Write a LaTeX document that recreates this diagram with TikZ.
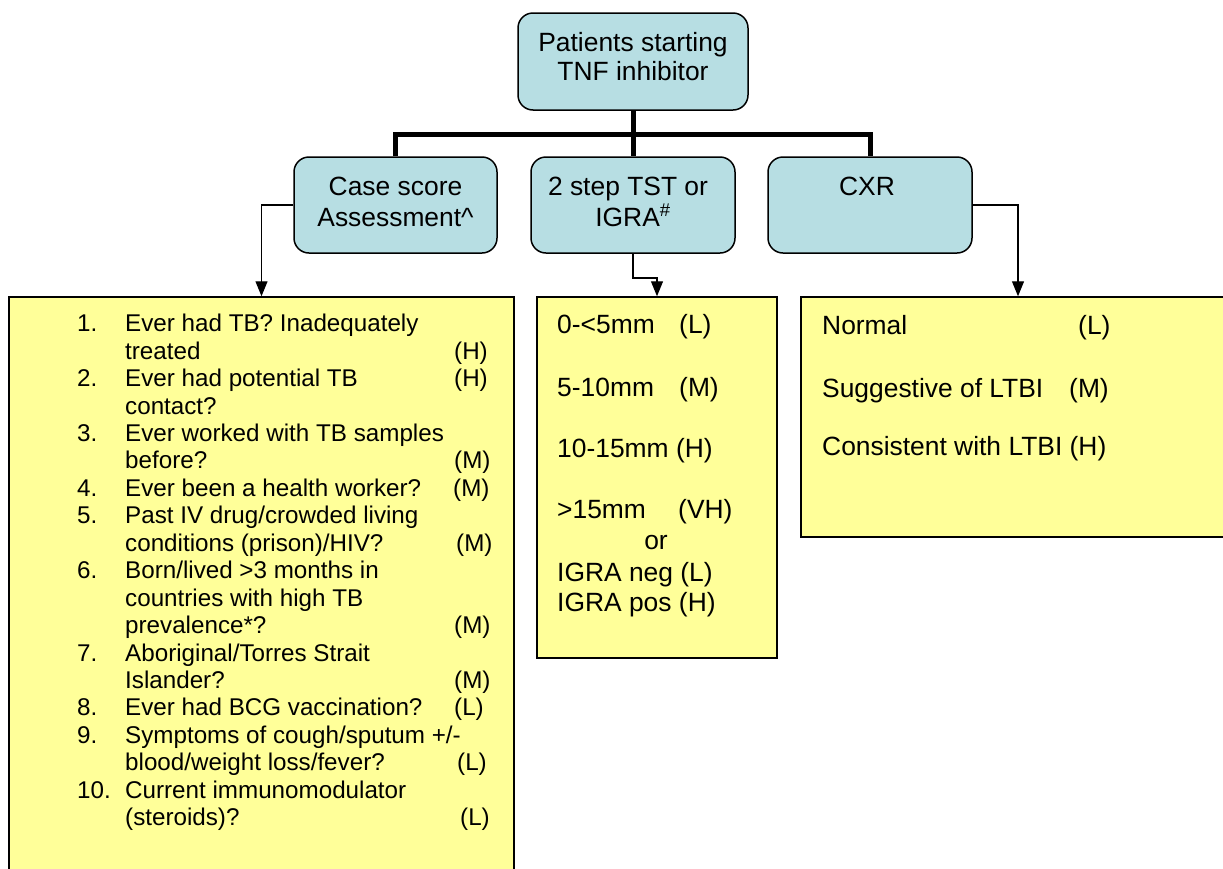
\documentclass[tikz,border=0pt]{standalone}
\usepackage{fontspec}
\setmainfont{Liberation Sans}
\usetikzlibrary{arrows.meta}
\definecolor{boxblue}{RGB}{183,222,227}
\definecolor{boxyellow}{RGB}{255,255,153}
\newcommand{\hfont}{\fontsize{26.4}{30.4}\selectfont}
\newcommand{\lfont}{\fontsize{24.2}{27.4}\selectfont}
\begin{document}
\begin{tikzpicture}[x=1pt,y=-1pt,
  bluebox/.style={draw=black, line width=1.5pt, fill=boxblue, rounded corners=15pt,
    minimum width=#1, minimum height=96pt, inner sep=0pt},
  bluebox/.default=204pt,
  yellowbox/.style={draw=black, line width=1.5pt, fill=boxyellow, inner sep=0pt},
  htxt/.style={font=\hfont, inner sep=0pt, anchor=base},
  mtxt/.style={font=\hfont, inner sep=0pt, anchor=base west},
  ltxt/.style={font=\lfont, inner sep=0pt, anchor=base west},
  barline/.style={line width=5pt},
  arr/.style={line width=1.2pt, -{Triangle[length=15pt,width=12pt]}}]
\useasboundingbox (0,0) rectangle (1223,868);
\clip (0,0) rectangle (1223,868);

% boxes
\node[bluebox=230pt, minimum height=97pt] (top) at (633,61.5) {};
\node[bluebox=203pt] (case) at (395.5,205) {};
\node[bluebox] (tst) at (633,205) {};
\node[bluebox] (cxr) at (870,205) {};
\node[yellowbox, minimum width=505pt, minimum height=603pt] (lbox) at (261.5,598.5) {};
\node[yellowbox, minimum width=240pt, minimum height=361pt] (mbox) at (657,477.5) {};
\node[yellowbox, minimum width=434pt, minimum height=240pt] (rbox) at (1018,417) {};

% connectors
\coordinate (junc) at (633,134);
\coordinate (elbow) at (633,278);
\draw[barline] (top.south) -- (tst.north);
\draw[barline] (case.north) |- (junc) -| (cxr.north);
\draw[arr] (case.west) -| (lbox.north);
\draw[arr] (tst.south) -- (elbow) -| (mbox.north);
\draw[arr] (cxr.east) -| (rbox.north);

% header texts
\node[htxt] (t1) at (633,51.5) {Patients starting};
\node[htxt] (t2) at (633,80) {TNF inhibitor};
\node[htxt] (c1) at (395.5,195) {Case score};
\node[htxt] (c2) at (395.5,226) {Assessment\textasciicircum};
\node[htxt] (s1) at (628,195) {2 step TST or};
\node[htxt] (s2) at (633,226) {IGRA\textsuperscript{\#}};
\node[htxt] (x1) at (867,195) {CXR};

% left list
\node[ltxt] (n1) at (77,331.7) {1.};
\node[ltxt] (l1) at (125,331.7) {Ever had TB? Inadequately};
\node[ltxt] (l2) at (125,359.1) {treated};
\node[ltxt] (r1) at (454,359.1) {(H)};
\node[ltxt] (n2) at (77,386.6) {2.};
\node[ltxt] (l3) at (125,386.6) {Ever had potential TB};
\node[ltxt] (r2) at (454,386.6) {(H)};
\node[ltxt] (l4) at (125,414.0) {contact?};
\node[ltxt] (n3) at (77,441.5) {3.};
\node[ltxt] (l5) at (125,441.5) {Ever worked with TB samples};
\node[ltxt] (l6) at (125,468.9) {before?};
\node[ltxt] (r3) at (454,468.9) {(M)};
\node[ltxt] (n4) at (77,496.3) {4.};
\node[ltxt] (l7) at (125,496.3) {Ever been a health worker?};
\node[ltxt] (r4) at (453,496.3) {(M)};
\node[ltxt] (n5) at (77,523.8) {5.};
\node[ltxt] (l8) at (125,523.8) {Past IV drug/crowded living};
\node[ltxt] (l9) at (125,551.2) {conditions (prison)/HIV?};
\node[ltxt] (r5) at (456,551.2) {(M)};
\node[ltxt] (n6) at (77,578.7) {6.};
\node[ltxt] (l10) at (125,578.7) {Born/lived >3 months in};
\node[ltxt] (l11) at (125,606.1) {countries with high TB};
\node[ltxt] (l12) at (125,633.5) {prevalence*?};
\node[ltxt] (r6) at (454,633.5) {(M)};
\node[ltxt] (n7) at (77,661.0) {7.};
\node[ltxt] (l13) at (125,661.0) {Aboriginal/Torres Strait};
\node[ltxt] (l14) at (125,688.4) {Islander?};
\node[ltxt] (r7) at (454,688.4) {(M)};
\node[ltxt] (n8) at (77,715.9) {8.};
\node[ltxt] (l15) at (125,715.9) {Ever had BCG vaccination?};
\node[ltxt] (r8) at (454,715.9) {(L)};
\node[ltxt] (n9) at (77,743.3) {9.};
\node[ltxt] (l16) at (125,743.3) {Symptoms of cough/sputum +/-};
\node[ltxt] (l17) at (125,770.7) {blood/weight loss/fever?};
\node[ltxt] (r9) at (457,770.7) {(L)};
\node[ltxt] (n10) at (77,798.2) {10.};
\node[ltxt] (l18) at (125,798.2) {Current immunomodulator};
\node[ltxt] (l19) at (125,825.6) {(steroids)?};
\node[ltxt] (r10) at (460,825.6) {(L)};

% middle box
\node[mtxt] (m1) at (557,333) {0-<5mm};
\node[mtxt] (m1r) at (679,333) {(L)};
\node[mtxt] (m2) at (557,396) {5-10mm};
\node[mtxt] (m2r) at (679,396) {(M)};
\node[mtxt] (m3) at (557,457) {10-15mm (H)};
\node[mtxt] (m4) at (557,518.5) {>15mm};
\node[mtxt] (m4r) at (678,518.5) {(VH)};
\node[htxt] (m5) at (656,549.5) {or};
\node[mtxt] (m6) at (557,581) {IGRA neg (L)};
\node[mtxt] (m7) at (557,611) {IGRA pos (H)};

% right box
\node[mtxt] (q1) at (822,334.5) {Normal};
\node[mtxt] (q1r) at (1078,334.5) {(L)};
\node[mtxt] (q2) at (822,397.5) {Suggestive of LTBI};
\node[mtxt] (q2r) at (1069,397.5) {(M)};
\node[mtxt] (q3) at (822,455.5) {Consistent with LTBI (H)};
\end{tikzpicture}
\end{document}
